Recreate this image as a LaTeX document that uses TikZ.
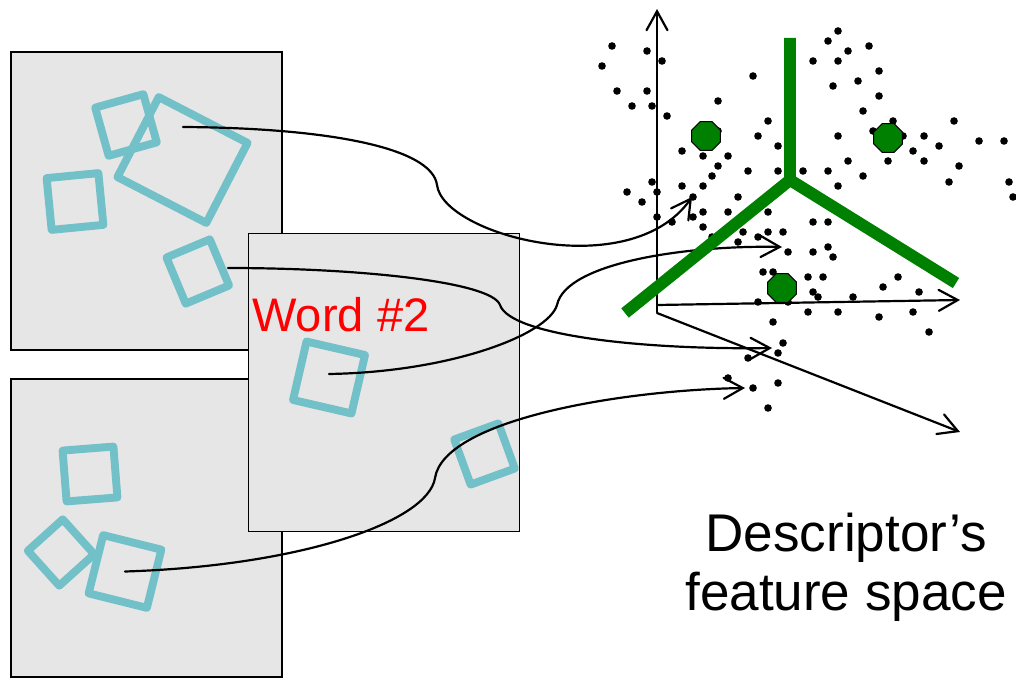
\documentclass[tikz,border=0pt]{standalone}
\usepackage{fontspec}
\setmainfont{Liberation Sans}
\usetikzlibrary{arrows.meta, shapes.geometric}

\definecolor{panelgray}{RGB}{230,230,230}
\definecolor{patchcyan}{RGB}{114,192,200}
\definecolor{cellgreen}{RGB}{0,128,0}

\begin{document}
\begin{tikzpicture}
            [x=0.02cm, y=-0.02cm,
            panel/.style={draw=black, fill=panelgray, line width=0.8pt, minimum width=5.42cm, minimum height=5.96cm, inner sep=0},
            patch/.style={draw=patchcyan, line width=4.5pt, line join=round, inner sep=0},
            link/.style={black, line width=1.25pt, line cap=round, -{Straight Barb[length=0.38cm, width=0.42cm, line cap=round]}},
            axis/.style={link},
            cell/.style={cellgreen, line width=6.8pt},
            centre/.style={regular polygon, regular polygon sides=8, draw=black, fill=cellgreen, line width=0.6pt, minimum size=0.62cm, inner sep=0}]

            \useasboundingbox (0,0) rectangle (1016,678);

            % Image panels
            \node[panel] (img1) at (146.5,201) {};
            \node[panel] (img3) at (146.5,528) {};

            % Patches of image 1
            \node[patch, minimum width=1.0cm, minimum height=1.0cm, rotate=15.6] (pa) at (126,125) {};
            \node[patch, minimum width=2.0cm, minimum height=1.8cm, rotate=-27.3] (pb) at (182.5,160) {};
            \node[patch, minimum width=1.04cm, minimum height=1.04cm, rotate=5.5] (pc) at (75,201.5) {};
            \node[patch, minimum width=0.94cm, minimum height=1.0cm, rotate=22.7] (pd) at (197.75,271.5) {};

            % Patches of image 3
            \node[patch, minimum width=1.02cm, minimum height=1.02cm, rotate=4.5] (pg) at (90,474) {};
            \node[patch, minimum width=0.94cm, minimum height=0.94cm, rotate=42] (ph) at (61,552.5) {};
            \node[patch, minimum width=1.2cm, minimum height=1.2cm, rotate=-14] (pi) at (125,571.5) {};

            \node[panel] (img2) at (384,382.5) {};

            % Patches of image 2
            \node[patch, minimum width=1.2cm, minimum height=1.2cm, rotate=-13] (pe) at (329,377.5) {};
            \node[patch, minimum width=0.94cm, minimum height=0.96cm, rotate=20] (pf) at (484.5,454) {};

            \node[text=red, font=\fontsize{26.8}{30}\selectfont, anchor=base west, inner sep=0] (word) at (252,332) {Word \#2};

            % Descriptors in feature space
            \foreach \x/\y in {612/46, 647/51, 662/61, 602/66, 617/91, 647/91, 632/106, 652/106, 667/116,
                753/76, 718/101, 718/131, 768/121, 758/136, 778/146, 682/151, 703/156, 728/156, 718/166, 712/176,
                748/171, 778/171, 803/171, 828/171, 838/186, 863/176, 848/161, 838/136,
                838/31, 828/41, 848/51, 869/46, 813/61, 838/61, 879/71, 833/86, 858/81, 879/96, 863/111,
                893/121, 873/131, 903/136, 924/136, 939/146, 913/151, 924/161, 888/161, 954/121, 979/141,
                1004/141, 959/166, 949/182, 1009/182, 1013/197,
                652/182, 627/192, 657/192, 642/202, 682/186, 703/186, 693/197, 738/197, 703/212, 728/212,
                768/212, 693/217, 657/217, 672/222, 703/227, 743/232, 768/232, 783/232, 758/237, 738/242,
                712/237, 788/252, 813/222, 828/222, 813/252, 828/247, 833/257,
                763/272, 773/272, 808/277, 823/277, 898/277, 883/287, 919/292, 813/292, 818/297, 853/297,
                758/302, 788/302, 808/312, 838/312, 879/317, 913/312, 773/322, 929/332,
                783/343, 778/353, 748/358, 728/378, 778/383, 753/388, 768/408}
                \fill (\x,\y) circle (0.076cm);

            % Axes
            \coordinate (origin) at (657,305);
            \coordinate (ytip) at (657,9);
            \coordinate (xtip) at (960,300);
            \coordinate (ztip) at (960,432);
            \draw[axis] (657,312) -- (ytip);
            \draw[axis] (origin) -- (xtip);
            \draw[axis] (657,313) -- (ztip);

            % Patch descriptors mapped to points
            \coordinate (fb) at (183,127);
            \coordinate (fd) at (228,268);
            \coordinate (fe) at (329,374);
            \coordinate (wb) at (692,197);
            \coordinate (wd) at (772,348);
            \coordinate (we) at (782,247);
            \coordinate (wi) at (745,388);
            \draw[link] (fb) .. controls (330,128) and (432,148) .. (437,185)
                .. controls (443,235) and (630,285) .. (wb);
            \draw[link] (fd) .. controls (360,268) and (492,282) .. (500,305)
                .. controls (510,335) and (640,350) .. (wd);
            \draw[link] (fe) .. controls (450,372) and (548,335) .. (557,305)
                .. controls (566,262) and (690,245) .. (we);
            \draw[link] (pi.center) .. controls (300,566) and (428,522) .. (435,478)
                .. controls (444,420) and (620,390) .. (wi);

            % Cell boundaries and cluster centres
            \coordinate (junction) at (790,180);
            \draw[cell] (790,38) -- (junction) -- (625,313) (junction) -- (956,283);
            \node[centre] (c1) at (706,136) {};
            \node[centre] (c2) at (888,138) {};
            \node[centre] (c3) at (782,288) {};

            \node[font=\fontsize{30.2}{33.5}\selectfont, align=center, anchor=north, inner sep=0] (caption) at (846,513) {Descriptor’s\\feature space};

        \end{tikzpicture}
\end{document}
